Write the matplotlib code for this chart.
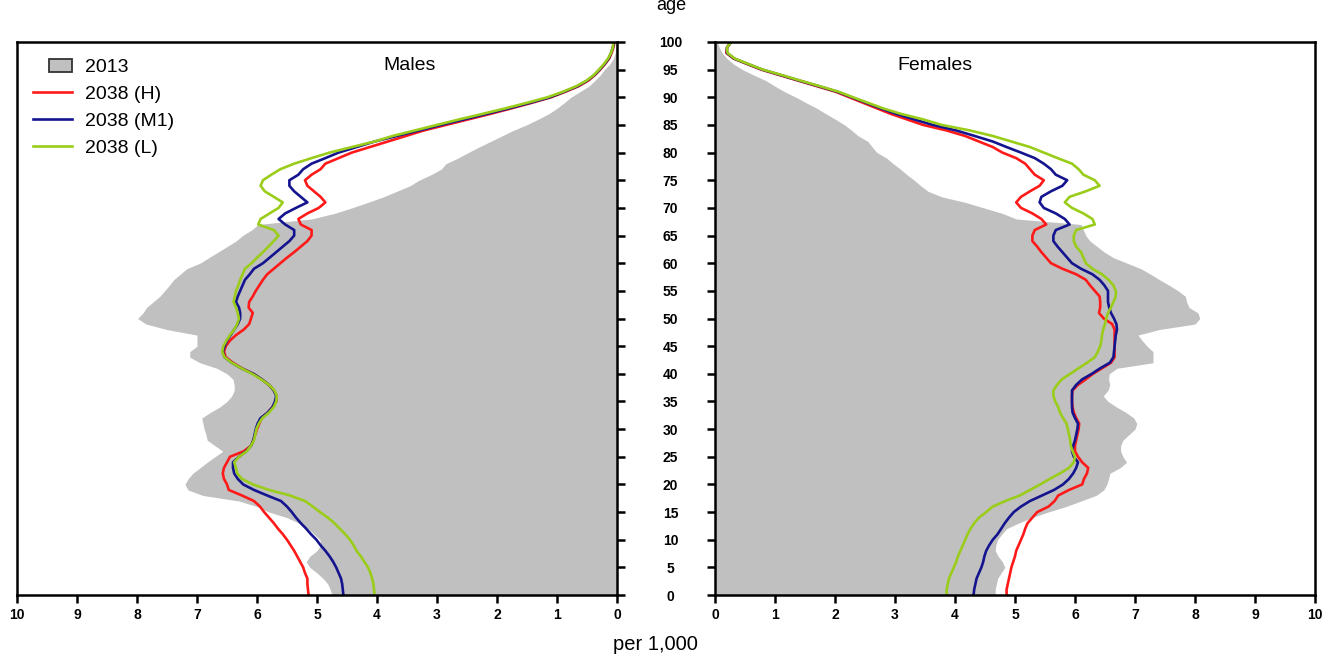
import numpy as np
import matplotlib
matplotlib.use("Agg")
import matplotlib.pyplot as plt
from matplotlib.patches import Patch, Rectangle
from matplotlib.lines import Line2D
from matplotlib.legend_handler import HandlerPatch

plt.rcParams['font.family'] = ['Liberation Sans', 'DejaVu Sans']

# single years of age, 0..100
ages = np.arange(0, 101)

# per 1,000 population
males_2013 = [4.75, 4.78, 4.82, 4.90, 5.00, 5.12, 5.18, 5.12, 5.00, 4.94,
              4.95, 5.05, 5.15, 5.30, 5.50, 5.80, 6.00, 6.30, 6.90, 7.15,
              7.20, 7.15, 7.07, 6.95, 6.83, 6.70, 6.57, 6.70, 6.83, 6.85,
              6.88, 6.90, 6.92, 6.78, 6.62, 6.50, 6.42, 6.38, 6.38, 6.40,
              6.50, 6.67, 6.95, 7.12, 7.12, 7.00, 7.00, 7.00, 7.50, 7.85,
              7.99, 7.90, 7.84, 7.73, 7.62, 7.54, 7.46, 7.39, 7.28, 7.17,
              6.95, 6.80, 6.65, 6.50, 6.35, 6.24, 6.09, 5.98, 5.09, 4.71,
              4.42, 4.15, 3.89, 3.67, 3.45, 3.30, 3.10, 2.93, 2.85, 2.65,
              2.48, 2.30, 2.11, 1.92, 1.73, 1.51, 1.32, 1.14, 1.00, 0.88,
              0.77, 0.62, 0.47, 0.37, 0.28, 0.21, 0.12, 0.06, 0.03, 0.02,
              0.01]
males_h = [5.14, 5.15, 5.16, 5.16, 5.20, 5.23, 5.28, 5.33, 5.38, 5.44,
           5.50, 5.57, 5.65, 5.72, 5.80, 5.88, 5.95, 6.05, 6.25, 6.47,
           6.50, 6.55, 6.57, 6.55, 6.50, 6.45, 6.22, 6.10, 6.06, 6.03,
           6.00, 5.96, 5.92, 5.82, 5.74, 5.68, 5.67, 5.72, 5.80, 5.92,
           6.06, 6.25, 6.40, 6.52, 6.55, 6.52, 6.45, 6.35, 6.22, 6.13,
           6.10, 6.07, 6.14, 6.13, 6.07, 6.02, 5.96, 5.90, 5.83, 5.72,
           5.61, 5.50, 5.38, 5.27, 5.16, 5.09, 5.09, 5.27, 5.31, 5.16,
           4.97, 4.86, 4.94, 5.05, 5.16, 5.20, 5.09, 4.94, 4.86, 4.64,
           4.42, 4.12, 3.82, 3.52, 3.22, 2.85, 2.48, 2.11, 1.76, 1.42,
           1.10, 0.86, 0.64, 0.48, 0.37, 0.28, 0.20, 0.13, 0.09, 0.06,
           0.04]
males_m1 = [4.56, 4.57, 4.58, 4.60, 4.64, 4.68, 4.73, 4.79, 4.86, 4.94,
            5.01, 5.10, 5.18, 5.27, 5.35, 5.42, 5.50, 5.60, 5.83, 6.05,
            6.23, 6.32, 6.38, 6.40, 6.40, 6.30, 6.18, 6.10, 6.06, 6.04,
            6.02, 5.99, 5.94, 5.82, 5.74, 5.70, 5.68, 5.72, 5.80, 5.92,
            6.06, 6.26, 6.42, 6.54, 6.57, 6.54, 6.50, 6.44, 6.38, 6.32,
            6.28, 6.28, 6.30, 6.35, 6.32, 6.28, 6.24, 6.20, 6.12, 6.05,
            5.90, 5.79, 5.68, 5.57, 5.46, 5.38, 5.38, 5.53, 5.64, 5.53,
            5.35, 5.16, 5.27, 5.38, 5.46, 5.46, 5.31, 5.23, 5.09, 4.86,
            4.64, 4.34, 4.04, 3.67, 3.30, 2.93, 2.55, 2.17, 1.80, 1.45,
            1.12, 0.88, 0.66, 0.50, 0.38, 0.29, 0.21, 0.14, 0.10, 0.07,
            0.05]
males_l = [4.04, 4.05, 4.06, 4.08, 4.11, 4.15, 4.21, 4.27, 4.34, 4.39,
           4.45, 4.53, 4.62, 4.71, 4.82, 4.95, 5.07, 5.20, 5.45, 5.80,
           6.07, 6.25, 6.33, 6.35, 6.38, 6.30, 6.17, 6.10, 6.05, 6.03,
           6.01, 5.97, 5.91, 5.80, 5.72, 5.68, 5.67, 5.71, 5.80, 5.93,
           6.08, 6.26, 6.42, 6.54, 6.58, 6.56, 6.51, 6.45, 6.38, 6.33,
           6.30, 6.32, 6.35, 6.39, 6.37, 6.35, 6.31, 6.28, 6.24, 6.20,
           6.09, 6.00, 5.90, 5.81, 5.72, 5.64, 5.72, 5.98, 5.94, 5.79,
           5.64, 5.57, 5.72, 5.87, 5.94, 5.90, 5.76, 5.61, 5.38, 5.09,
           4.79, 4.42, 4.04, 3.74, 3.37, 3.00, 2.63, 2.24, 1.86, 1.50,
           1.16, 0.90, 0.68, 0.51, 0.39, 0.30, 0.22, 0.15, 0.10, 0.07,
           0.06]

females_2013 = [4.67, 4.67, 4.69, 4.71, 4.77, 4.83, 4.79, 4.72, 4.67, 4.68,
                4.71, 4.78, 4.86, 5.06, 5.28, 5.55, 5.85, 6.10, 6.35, 6.48,
                6.53, 6.56, 6.58, 6.75, 6.86, 6.80, 6.76, 6.76, 6.80, 6.90,
                7.00, 7.03, 6.98, 6.85, 6.69, 6.55, 6.47, 6.55, 6.58, 6.56,
                6.57, 6.70, 7.30, 7.30, 7.30, 7.20, 7.12, 7.05, 7.40, 8.00,
                8.08, 8.05, 7.90, 7.86, 7.84, 7.72, 7.57, 7.41, 7.26, 7.10,
                6.87, 6.64, 6.49, 6.37, 6.25, 6.18, 6.14, 6.10, 5.02, 4.79,
                4.48, 4.17, 3.78, 3.55, 3.43, 3.32, 3.20, 3.09, 2.97, 2.86,
                2.70, 2.62, 2.55, 2.39, 2.28, 2.16, 2.01, 1.85, 1.70, 1.52,
                1.35, 1.16, 1.00, 0.85, 0.65, 0.46, 0.31, 0.20, 0.12, 0.07,
                0.04]
females_h = [4.86, 4.86, 4.88, 4.90, 4.92, 4.94, 4.97, 5.00, 5.02, 5.06,
             5.10, 5.14, 5.17, 5.21, 5.29, 5.37, 5.56, 5.66, 5.72, 5.90,
             6.12, 6.15, 6.20, 6.22, 6.12, 6.05, 6.00, 6.00, 6.02, 6.04,
             6.06, 6.07, 6.02, 5.98, 5.96, 5.95, 5.95, 5.96, 6.05, 6.18,
             6.30, 6.45, 6.60, 6.66, 6.66, 6.66, 6.66, 6.66, 6.66, 6.62,
             6.48, 6.40, 6.42, 6.42, 6.41, 6.33, 6.25, 6.18, 6.02, 5.79,
             5.60, 5.52, 5.44, 5.37, 5.29, 5.29, 5.33, 5.52, 5.44, 5.29,
             5.10, 5.02, 5.10, 5.25, 5.41, 5.48, 5.33, 5.25, 5.17, 5.02,
             4.79, 4.63, 4.40, 4.17, 3.86, 3.47, 3.20, 2.93, 2.70, 2.47,
             2.24, 2.01, 1.70, 1.39, 1.08, 0.77, 0.54, 0.31, 0.19, 0.20,
             0.27]
females_m1 = [4.31, 4.32, 4.34, 4.36, 4.40, 4.44, 4.47, 4.49, 4.52, 4.57,
              4.63, 4.71, 4.77, 4.83, 4.90, 4.98, 5.10, 5.25, 5.45, 5.65,
              5.80, 5.90, 5.97, 6.02, 6.05, 5.98, 5.95, 5.97, 6.00, 6.02,
              6.04, 6.05, 6.00, 5.96, 5.95, 5.95, 5.95, 5.95, 6.02, 6.12,
              6.28, 6.42, 6.58, 6.64, 6.65, 6.66, 6.67, 6.68, 6.70, 6.69,
              6.65, 6.60, 6.57, 6.55, 6.55, 6.55, 6.49, 6.41, 6.29, 6.10,
              5.95, 5.87, 5.79, 5.71, 5.64, 5.64, 5.68, 5.91, 5.83, 5.68,
              5.48, 5.41, 5.44, 5.60, 5.79, 5.87, 5.68, 5.60, 5.48, 5.33,
              5.10, 4.86, 4.63, 4.33, 4.02, 3.63, 3.32, 3.02, 2.76, 2.52,
              2.28, 2.04, 1.73, 1.41, 1.10, 0.79, 0.55, 0.32, 0.20, 0.20,
              0.27]
females_l = [3.86, 3.86, 3.88, 3.90, 3.94, 3.98, 4.02, 4.05, 4.09, 4.13,
             4.17, 4.21, 4.26, 4.32, 4.40, 4.52, 4.63, 4.84, 5.08, 5.25,
             5.42, 5.58, 5.75, 5.90, 5.98, 6.00, 5.96, 5.93, 5.92, 5.90,
             5.88, 5.86, 5.80, 5.75, 5.72, 5.67, 5.64, 5.64, 5.70, 5.78,
             5.92, 6.06, 6.20, 6.33, 6.38, 6.42, 6.44, 6.45, 6.47, 6.50,
             6.52, 6.55, 6.60, 6.64, 6.68, 6.68, 6.64, 6.56, 6.45, 6.29,
             6.18, 6.14, 6.10, 6.02, 5.98, 5.98, 6.02, 6.33, 6.29, 6.14,
             5.95, 5.83, 5.91, 6.18, 6.41, 6.33, 6.14, 6.06, 5.95, 5.71,
             5.48, 5.25, 4.94, 4.63, 4.25, 3.78, 3.47, 3.10, 2.80, 2.55,
             2.30, 2.06, 1.75, 1.43, 1.12, 0.80, 0.56, 0.33, 0.21, 0.20,
             0.27]

x_ticks = list(range(0, 11))
age_ticks = list(range(0, 101, 5))

GREY = '#c0c0c0'
RED = '#ff1a1a'
BLUE = '#14148f'
GREEN = '#9acd1a'

fig = plt.figure(figsize=(13.26, 6.58), dpi=100)
ax_m = fig.add_axes([0.0128, 0.0957, 0.4525, 0.8405])
ax_f = fig.add_axes([0.5392, 0.0957, 0.4525, 0.8405])

series = [
    (ax_m, males_2013, males_h, males_m1, males_l),
    (ax_f, females_2013, females_h, females_m1, females_l),
]
for ax, base, h, m1, low in series:
    ax.fill_betweenx(ages, 0, base, color=GREY, lw=0)
    ax.plot(h, ages, color=RED, lw=1.9)
    ax.plot(m1, ages, color=BLUE, lw=1.9)
    ax.plot(low, ages, color=GREEN, lw=1.9)
    ax.set_ylim(0, 100)
    ax.set_xticks(x_ticks)
    ax.set_yticks(age_ticks)
    ax.tick_params(axis='both', direction='out', length=6, width=1.8,
                   labelsize=10, colors='black')
    for lab in ax.get_xticklabels() + ax.get_yticklabels():
        lab.set_fontweight('bold')
    for s in ax.spines.values():
        s.set_linewidth(1.8)

ax_m.set_xlim(10, 0)
ax_f.set_xlim(0, 10)

# age axis sits between the two panels
ax_m.yaxis.tick_right()
ax_m.tick_params(axis='y', labelright=False)
ax_f.tick_params(axis='y', pad=26)
for lab in ax_f.get_yticklabels():
    lab.set_horizontalalignment('center')

ax_m.text(3.45, 95.8, 'Males', ha='center', va='center', fontsize=14)
ax_f.text(3.67, 95.8, 'Females', ha='center', va='center', fontsize=14)


def small_box(legend, orig_handle, xdescent, ydescent, width, height, fontsize):
    return Rectangle((0.42 * width - xdescent, -ydescent - 0.05 * height),
                     0.58 * width, 1.0 * height)


handles = [
    Patch(facecolor=GREY, edgecolor='#333333', lw=1.3, label='2013'),
    Line2D([], [], color=RED, lw=1.9, label='2038 (H)'),
    Line2D([], [], color=BLUE, lw=1.9, label='2038 (M1)'),
    Line2D([], [], color=GREEN, lw=1.9, label='2038 (L)'),
]
ax_m.legend(handles=handles, loc='upper left', frameon=False, fontsize=14,
            handlelength=2.0, handletextpad=0.67, labelspacing=0.49,
            borderaxespad=0.42,
            handler_map={Patch: HandlerPatch(patch_func=small_box)})

fig.text(671 / 1326, 1 - 6 / 658, 'age', ha='center', va='center', fontsize=13)
fig.text(655 / 1326, 1 - 645 / 658, 'per 1,000', ha='center', va='center',
         fontsize=14.5)

fig.savefig('out.png', dpi=100)
